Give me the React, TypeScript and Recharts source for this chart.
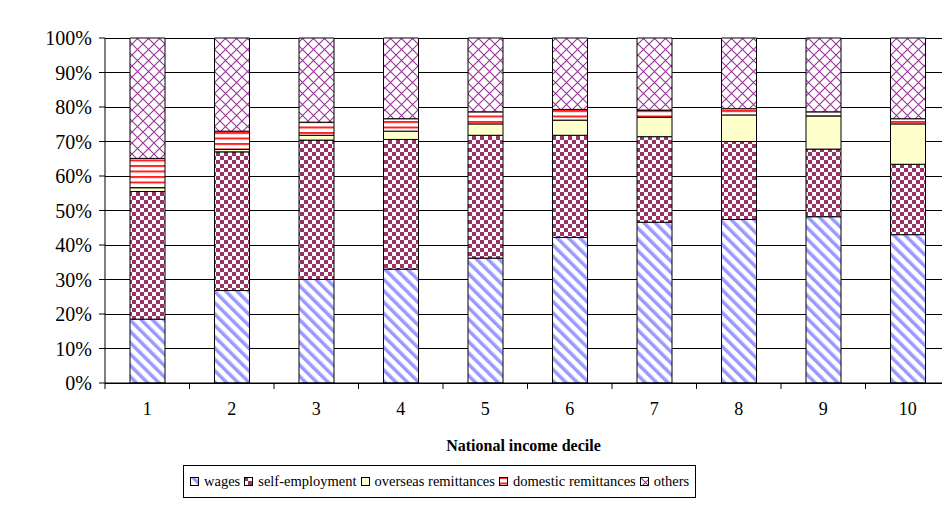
import { Bar, BarChart, CartesianGrid, Legend, XAxis, YAxis } from "recharts"

const deciles = ["1", "2", "3", "4", "5", "6", "7", "8", "9", "10"]
const wages = [18.5, 26.8, 30.0, 33.0, 36.2, 42.2, 46.6, 47.4, 48.2, 43.0]
const selfEmployment = [37.0, 40.2, 40.4, 37.6, 35.6, 29.6, 24.8, 22.6, 19.6, 20.4]
const overseas = [1.1, 0.7, 1.4, 2.4, 3.3, 4.4, 5.6, 7.7, 9.6, 11.7]
const domestic = [8.5, 5.3, 3.8, 3.6, 3.5, 3.1, 2.1, 1.8, 1.2, 1.5]
const others = [34.9, 27.0, 24.4, 23.4, 21.4, 20.7, 20.9, 20.5, 21.4, 23.4]
const yTicks = [0, 10, 20, 30, 40, 50, 60, 70, 80, 90, 100]

const series = [
  { key: "wages", name: "wages", fill: "url(#pWages)" },
  { key: "self", name: "self-employment", fill: "url(#pSelf)" },
  { key: "overseas", name: "overseas remittances", fill: "#ffffcc" },
  { key: "domestic", name: "domestic remittances", fill: "url(#pDomestic)" },
  { key: "others", name: "others", fill: "url(#pOthers)" },
]

const data = deciles.map((d, i) => ({
  decile: d,
  wages: wages[i],
  self: selfEmployment[i],
  overseas: overseas[i],
  domestic: domestic[i],
  others: others[i],
}))

const W = 950
const H = 506
const FONT = "'Liberation Serif', 'Times New Roman', Times, 'DejaVu Serif', 'Noto Serif', serif"
const LEFT = 105
const plotWidth = W - LEFT
const step = plotWidth / deciles.length

function DecileTick(props: any) {
  const { x, y, payload } = props
  const bx = x - step / 2
  return (
    <g>
      <line x1={bx} y1={y - 8} x2={bx} y2={y - 2} stroke="#000" />
      <text x={x} y={y + 24} textAnchor="middle" fontSize={18} fontFamily={FONT} fill="#000">
        {payload.value}
      </text>
    </g>
  )
}

function LegendBox() {
  return (
    <div
      style={{
        border: "1px solid #000",
        padding: "7px 6px",
        display: "flex",
        alignItems: "center",
        fontFamily: FONT,
        fontSize: 14.5,
        color: "#000",
        whiteSpace: "nowrap",
        background: "#fff",
      }}
    >
      {series.map((s, i) => (
        <span key={s.key} style={{ display: "flex", alignItems: "center", marginRight: i < series.length - 1 ? 4 : 0 }}>
          <svg width={9} height={9} style={{ marginRight: 5 }}>
            <rect x={0.5} y={0.5} width={8} height={8} fill={s.fill} stroke="#000" />
          </svg>
          {s.name}
        </span>
      ))}
    </div>
  )
}

export default function App() {
  return (
    <div style={{ position: "relative", width: W, height: H, margin: -8, overflow: "hidden", background: "#fff" }}>
      <div
        style={{
          position: "absolute",
          left: 7,
          top: 5,
          width: W,
          height: 499,
          border: "1px solid #000",
          boxSizing: "border-box",
        }}
      />
      <div style={{ position: "absolute", left: 0, top: 0 }}>
        <BarChart width={W} height={H} data={data} margin={{ top: 38, right: 0, bottom: 53, left: 0 }} barSize={35}>
          <defs>
            <pattern id="pWages" patternUnits="userSpaceOnUse" width={8} height={8} patternTransform="rotate(-45)">
              <rect width={8} height={8} fill="#fff" />
              <rect width={3.5} height={8} fill="#9999ff" />
            </pattern>
            <pattern id="pSelf" patternUnits="userSpaceOnUse" width={8} height={8}>
              <rect width={8} height={8} fill="#fff" />
              <rect width={4} height={4} fill="#993366" />
              <rect x={4} y={4} width={4} height={4} fill="#993366" />
            </pattern>
            <pattern id="pDomestic" patternUnits="userSpaceOnUse" width={8} height={5.5}>
              <rect width={8} height={5.5} fill="#fff" />
              <rect y={0} width={8} height={2} fill="#ff2020" />
            </pattern>
            <pattern id="pOthers" patternUnits="userSpaceOnUse" width={11} height={11}>
              <rect width={11} height={11} fill="#fff" />
              <path d="M0,0 L11,11 M11,0 L0,11" stroke="#993399" strokeWidth={1.1} />
            </pattern>
          </defs>
          <CartesianGrid vertical={false} stroke="#000" shapeRendering="crispEdges" />
          <XAxis
            dataKey="decile"
            height={70}
            axisLine={{ stroke: "#000" }}
            tickLine={false}
            tick={<DecileTick />}
            interval={0}
            label={{
              value: "National income decile",
              position: "insideBottom",
              offset: 2,
              dx: -4,
              style: { fontFamily: FONT, fontSize: 16, fontWeight: "bold", fill: "#000" },
            }}
          />
          <YAxis
            width={LEFT}
            domain={[0, 100]}
            ticks={yTicks}
            interval={0}
            tickFormatter={(v) => `${v}%`}
            axisLine={{ stroke: "#000" }}
            tickLine={{ stroke: "#000" }}
            tickSize={6}
            tickMargin={7}
            tick={{ fontFamily: FONT, fontSize: 20, fill: "#000" }}
          />
          <Legend
            layout="horizontal"
            verticalAlign="middle"
            align="center"
            content={<LegendBox />}
            wrapperStyle={{ top: 465, left: 183, width: "auto" }}
          />
          {series.map((s) => (
            <Bar
              key={s.key}
              dataKey={s.key}
              name={s.name}
              stackId="a"
              fill={s.fill}
              stroke="#000"
              strokeWidth={1}
              isAnimationActive={false}
            />
          ))}
        </BarChart>
      </div>
    </div>
  )
}
